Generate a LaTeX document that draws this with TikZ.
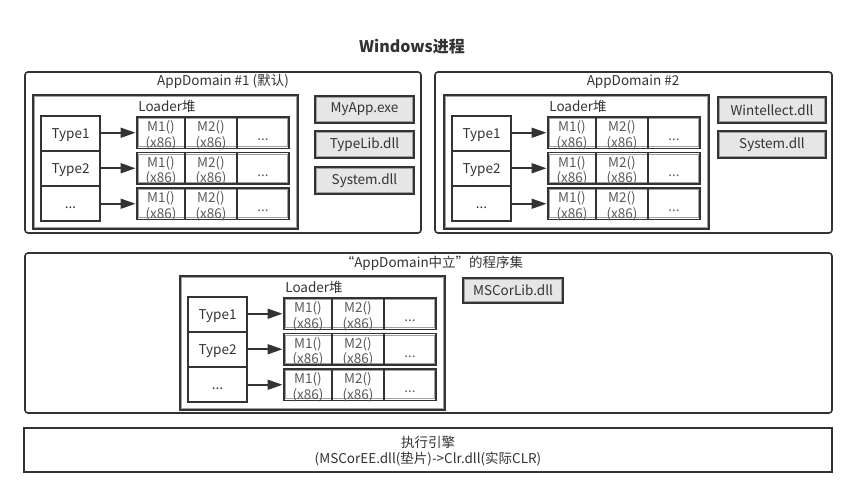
\documentclass[tikz,border=0pt]{standalone}
\usepackage{fontspec}
\setmainfont{Noto Sans CJK SC}
\usetikzlibrary{arrows.meta}
\definecolor{dk}{HTML}{333333}
\definecolor{tx}{HTML}{333333}
\definecolor{mt}{HTML}{5A5A5A}
\definecolor{ln}{HTML}{A0A0A0}
\definecolor{dllfill}{HTML}{E6E6E6}
\newcommand\fs{\fontsize{13.5pt}{15pt}\selectfont}
\newcommand\heapgroup[3]{%
 \begin{scope}[shift={(#2,#3)}]
  \node[heapbox, minimum width=265pt, minimum height=134pt] (#1h) at (33,95) {};
  \node[lbl] (#1hl) at (167,106) {Loader堆};
  \node[typebox] (#1t1) at (41,116) {Type1};
  \node[typebox] (#1t2) at (41,151) {Type2};
  \node[typebox] (#1t3) at (41,186) {...};
  \foreach \r/\yy in {1/117,2/152.5,3/188}{
   \node[rowbox] (#1r\r) at (137,\yy) {};
   \node[cellbox, minimum width=48pt] (#1r\r a) at (137,\yy) {};
   \node[cellbox, minimum width=52pt] (#1r\r b) at (185,\yy) {};
   \node[cellbox, minimum width=52pt] (#1r\r c) at (237,\yy) {};
   \node[mtext] (#1r\r at) at ([yshift=-2.5pt]#1r\r a.center) {M1()\\(x86)};
   \node[mtext] (#1r\r bt) at ([yshift=-2.5pt]#1r\r b.center) {M2()\\(x86)};
   \node[mtext, text height=10pt, text depth=0pt] (#1r\r ct) at ([yshift=-3pt]#1r\r c.center) {...};
   \draw[arr] (#1t\r.east |- #1r\r.west) -- (#1r\r.west);
  }
 \end{scope}}
\begin{document}
\begin{tikzpicture}[x=1pt,y=-1pt,
  box/.style={rectangle, inner sep=0pt, outer sep=0pt, anchor=north west},
  dbl/.style={path picture={\draw[ln, line width=1.1pt] ([shift={(1.8pt,1.8pt)}]path picture bounding box.south west) rectangle ([shift={(-1.8pt,-1.8pt)}]path picture bounding box.north east);}},
  dom/.style={box, draw=dk, line width=1.6pt, rounded corners=3pt},
  heapbox/.style={box, draw=dk, line width=1.3pt, dbl},
  typebox/.style={box, draw=dk, line width=1.8pt, minimum width=59pt, minimum height=35pt, font=\fs, text=tx, text height=10pt, text depth=0pt},
  rowbox/.style={box, draw=dk, line width=1.6pt, dbl, minimum width=152pt, minimum height=31.5pt},
  cellbox/.style={box, draw=dk, line width=1.3pt, minimum height=31.5pt},
  mtext/.style={inner sep=0pt, align=center, font=\fontsize{13.5pt}{15.5pt}\selectfont, text=mt},
  dll/.style={box, draw=dk, line width=1.5pt, fill=dllfill, dbl, font=\fs, text=tx, minimum height=27pt},
  lbl/.style={inner sep=0pt, font=\fs, text=tx},
  arr/.style={draw=dk, line width=1.8pt, shorten >=1.5pt, -{Triangle[length=15pt,width=10pt]}}
]
\useasboundingbox[fill=white] (0,0) rectangle (857,497);
\node[inner sep=0pt, font=\fontsize{16pt}{18pt}\selectfont\bfseries, text=tx] (title) at (412,47) {Windows进程};
% AppDomain 1
\node[dom, minimum width=396pt, minimum height=161pt] (d1) at (25,72) {};
\node[lbl] (d1l) at (223,81) {AppDomain \#1 (默认)};
\heapgroup{a}{0}{0}
\node[dll, minimum width=99pt] (myapp) at (315,96) {MyApp.exe};
\node[dll, minimum width=99pt] (typelib) at (315,131) {TypeLib.dll};
\node[dll, minimum width=99pt] (sys1) at (315,167) {System.dll};
% AppDomain 2
\node[dom, minimum width=397pt, minimum height=161pt] (d2) at (435,72) {};
\node[lbl] (d2l) at (633,82) {AppDomain \#2};
\heapgroup{b}{411}{0}
\node[dll, minimum width=108pt, minimum height=26pt] (wint) at (718,97) {Wintellect.dll};
\node[dll, minimum width=108pt] (sys2) at (718,131) {System.dll};
% neutral
\node[dom, minimum width=807pt, minimum height=160pt] (dn) at (25,253) {};
\node[lbl] (dnl) at (432,263) {“AppDomain中立”的程序集};
\heapgroup{c}{147}{181}
\node[dll, minimum width=100pt, minimum height=25pt] (mscorlib) at (463,278) {MSCorLib.dll};
% execution engine
\node[box, draw=dk, line width=1.8pt, minimum width=808pt, minimum height=44pt] (ee) at (24,428) {};
\node[lbl] (ee1) at (428,442) {执行引擎};
\node[lbl] (ee2) at (428,459) {(MSCorEE.dll(垫片)->Clr.dll(实际CLR)};
\end{tikzpicture}
\end{document}
